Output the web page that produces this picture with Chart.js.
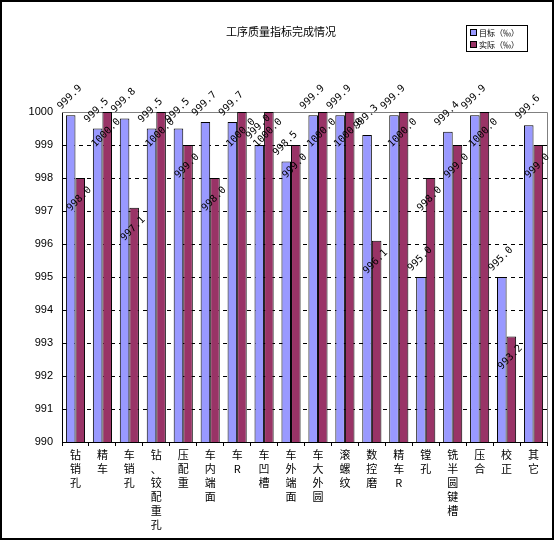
<!DOCTYPE html>
<html>
<head>
<meta charset="utf-8">
<script src="https://cdn.jsdelivr.net/npm/chart.js@4.4.0/dist/chart.umd.min.js"></script>
<style>
    body { margin: 0; background: #fff; }
    canvas { display: block; }
</style>
</head>
<body>
<canvas id="qualityChart" width="554" height="540"></canvas>
<script>
// ==========================================
// DATA
// ==========================================
const processNames = ['钻销孔', '精车', '车销孔', '钻、铰配重孔', '压配重', '车内端面', '车R', '车凹槽',
    '车外端面', '车大外圆', '滚螺纹', '数控磨', '精车R', '镗孔', '铣半圆键槽', '压合', '校正', '其它'];
const targetValues = [999.9, 999.5, 999.8, 999.5, 999.5, 999.7, 999.7, 999.0, 998.5,
    999.9, 999.9, 999.3, 999.9, 995.0, 999.4, 999.9, 995.0, 999.6];
const actualValues = [998.0, 1000.0, 997.1, 1000.0, 999.0, 998.0, 1000.0, 1000.0, 999.0,
    1000.0, 1000.0, 996.1, 1000.0, 998.0, 999.0, 1000.0, 993.2, 999.0];
const seriesNames = ['目标（‰）', '实际（‰）'];
const yTicks = [990, 991, 992, 993, 994, 995, 996, 997, 998, 999, 1000];

const palette = { target: '#9999FF', actual: '#993366', frame: '#808080' };

// vertical labels: one character per line
const verticalLabels = processNames.map(name => Array.from(name));

// ==========================================
// PLUGINS (background, frame, title, legend, value labels)
// ==========================================
const decorPlugin = {
    id: 'decor',
    beforeDraw(chart) {
        const ctx = chart.ctx;
        ctx.save();
        ctx.fillStyle = '#fff';
        ctx.fillRect(0, 0, chart.width, chart.height);
        ctx.restore();
    },
    beforeDatasetsDraw(chart) {
        const { ctx, chartArea: a } = chart;
        ctx.save();
        ctx.strokeStyle = palette.frame;
        ctx.lineWidth = 1;
        ctx.beginPath();
        ctx.moveTo(a.left, a.top + 0.5);
        ctx.lineTo(a.right + 0.5, a.top + 0.5);
        ctx.lineTo(a.right + 0.5, a.bottom);
        ctx.stroke();
        ctx.restore();
    },
    afterDatasetsDraw(chart) {
        const ctx = chart.ctx;
        ctx.save();
        ctx.font = '10px "DejaVu Sans Mono"';
        ctx.fillStyle = '#000';
        ctx.textAlign = 'center';
        ctx.textBaseline = 'middle';
        chart.data.datasets.forEach((ds, i) => {
            chart.getDatasetMeta(i).data.forEach((bar, j) => {
                const dy = i === 0 ? -18 : 21;
                ctx.save();
                ctx.translate(bar.x - 1, bar.y + dy);
                ctx.rotate(-Math.PI / 4);
                ctx.fillText(ds.data[j].toFixed(1), 0, 0);
                ctx.restore();
            });
        });
        ctx.restore();
    },
    afterDraw(chart) {
        const ctx = chart.ctx;
        ctx.save();
        // outer frame
        ctx.strokeStyle = '#000';
        ctx.lineWidth = 2;
        ctx.strokeRect(1, 1, chart.width - 2, chart.height - 2);

        // title
        ctx.fillStyle = '#000';
        ctx.font = '11px "Noto Sans CJK SC"';
        ctx.textAlign = 'center';
        ctx.textBaseline = 'middle';
        ctx.fillText('工序质量指标完成情况', 281, 32);

        // legend
        ctx.lineWidth = 1;
        ctx.strokeRect(466.5, 25.5, 61, 26);
        ctx.font = '8px "Noto Sans CJK SC"';
        ctx.textAlign = 'left';
        chart.data.datasets.forEach((ds, i) => {
            const y = 32 + i * 12;
            ctx.fillStyle = ds.backgroundColor;
            ctx.fillRect(470, y - 3, 6, 6);
            ctx.strokeRect(470.5, y - 2.5, 6, 6);
            ctx.fillStyle = '#000';
            ctx.fillText(ds.label, 479, y + 0.5);
        });
        ctx.restore();
    }
};

// ==========================================
// CHART
// ==========================================
new Chart(document.getElementById('qualityChart'), {
    type: 'bar',
    data: {
        labels: verticalLabels,
        datasets: [
            { label: seriesNames[0], data: targetValues, backgroundColor: palette.target },
            { label: seriesNames[1], data: actualValues, backgroundColor: palette.actual }
        ]
    },
    options: {
        responsive: false,
        animation: false,
        devicePixelRatio: 1,
        layout: { padding: { top: 112, right: 7, left: 0, bottom: 0 } },
        datasets: {
            bar: {
                borderColor: '#000',
                borderWidth: 1,
                categoryPercentage: 0.71,
                barPercentage: 1
            }
        },
        plugins: {
            legend: { display: false },
            title: { display: false },
            tooltip: { enabled: false }
        },
        scales: {
            x: {
                afterFit(scale) { scale.height = 98; },
                grid: {
                    offset: true,
                    drawOnChartArea: false,
                    drawTicks: true,
                    tickLength: 4,
                    color: '#000'
                },
                border: { display: true, color: '#000', width: 1 },
                ticks: {
                    autoSkip: false,
                    maxRotation: 0,
                    minRotation: 0,
                    padding: 2,
                    color: '#000',
                    font: { family: '"Noto Sans CJK SC"', size: 11, lineHeight: 1.27 }
                }
            },
            y: {
                min: yTicks[0],
                max: yTicks[yTicks.length - 1],
                afterFit(scale) { scale.width = 62; },
                afterBuildTicks(scale) { scale.ticks = yTicks.map(v => ({ value: v })); },
                grid: {
                    drawTicks: false,
                    color: ctx => (ctx.tick && ctx.tick.value > yTicks[0] && ctx.tick.value < yTicks[yTicks.length - 1]) ? '#000' : 'rgba(0,0,0,0)'
                },
                border: { display: true, color: '#000', width: 1, dash: [4, 4] },
                ticks: {
                    padding: 9,
                    color: '#000',
                    font: { family: '"Liberation Sans"', size: 11 },
                    callback: value => String(value)
                }
            }
        }
    },
    plugins: [decorPlugin]
});
</script>
</body>
</html>
